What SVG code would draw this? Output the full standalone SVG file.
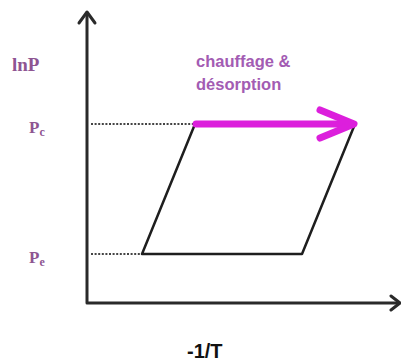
<svg xmlns="http://www.w3.org/2000/svg" width="401" height="363" viewBox="0 0 401 363">
<style>
.axis{fill:none;stroke:#2a2a2a;stroke-width:3;stroke-linecap:round;stroke-linejoin:round}
.cycle{fill:none;stroke:#1e1e1e;stroke-width:2.5;stroke-linejoin:round}
.dot{fill:none;stroke:#444;stroke-width:2;stroke-dasharray:2 1.6}
.lab{font-family:"Liberation Serif","Times New Roman",serif;font-weight:bold;fill:#8e5592}
.proc{font-family:"Liberation Sans",Arial,sans-serif;font-weight:bold;font-size:16.5px;fill:#a35cb3}
.xl{font-family:"Liberation Sans",Arial,sans-serif;font-weight:bold;font-size:20px;fill:#111}
.mag{fill:none;stroke:#dc1fdc;stroke-width:7;stroke-linecap:round;stroke-linejoin:round}
</style>
<rect width="401" height="363" fill="#fff"/>
<g id="axes">
<path class="axis" d="M87 13 L87 303 L399 303"/>
<path class="axis" d="M79 23 L87 12 L95 23"/>
<path class="axis" d="M391 296 L400 303 L391 310" stroke-width="2.5"/>
</g>
<g id="guides">
<line class="dot" x1="91" y1="124" x2="194" y2="124"/>
<line class="dot" x1="91" y1="254" x2="141" y2="254"/>
</g>
<g id="cycle">
<path class="cycle" d="M195 124 L355 124 L302 254 L142 254 Z"/>
</g>
<g id="connectors">
<line class="mag" x1="196" y1="124" x2="352" y2="124"/>
<path class="mag" d="M320 110 L354 124 L320 138"/>
</g>
<g id="labels">
<text class="lab" x="12" y="71" font-size="19">lnP</text>
<text class="lab" x="29" y="133" font-size="17">P<tspan font-size="12" dy="3">c</tspan></text>
<text class="lab" x="29" y="263" font-size="17">P<tspan font-size="12" dy="3">e</tspan></text>
<text class="proc" x="196" y="67">chauffage &amp;</text>
<text class="proc" x="196" y="90">désorption</text>
<text class="xl" x="187" y="358">-1/T</text>
</g>
</svg>
